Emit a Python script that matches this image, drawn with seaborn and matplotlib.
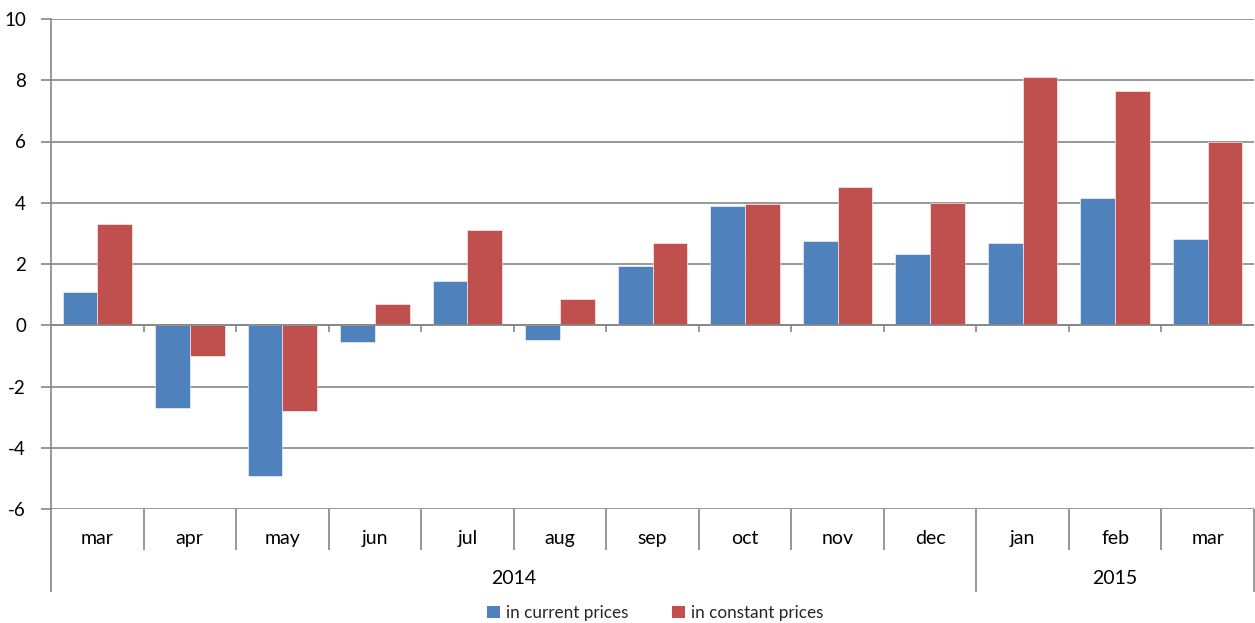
import numpy as np
import pandas as pd
import matplotlib
matplotlib.use("Agg")
import matplotlib.pyplot as plt
import matplotlib.transforms as mtransforms
from matplotlib.patches import Patch
import seaborn as sns

sns.set_theme(style="white")
plt.rcParams['font.family'] = ['Lato', 'DejaVu Sans']

# --- dane ---
months = ["mar", "apr", "may", "jun", "jul", "aug", "sep", "oct", "nov", "dec", "jan", "feb", "mar"]
years = ["2014"] * 10 + ["2015"] * 3
current_prices = [1.1, -2.69, -4.92, -0.54, 1.46, -0.47, 1.95, 3.88, 2.76, 2.34, 2.67, 4.14, 2.81]
constant_prices = [3.32, -1.0, -2.79, 0.71, 3.12, 0.87, 2.67, 3.97, 4.53, 4.0, 8.1, 7.66, 6.0]
series_names = ["in current prices", "in constant prices"]
colors = ["#4F81BD", "#C0504D"]
y_ticks = list(range(-6, 11, 2))

periods = [f"{m} {y}" for m, y in zip(months, years)]
df = pd.DataFrame({"period": periods,
                   series_names[0]: current_prices,
                   series_names[1]: constant_prices})
long = df.melt(id_vars="period", var_name="series", value_name="value")

grid_col = "#868686"

fig = plt.figure(figsize=(12.55, 6.23), dpi=100)
ax = fig.add_axes([51 / 1255, 1 - 509 / 623, 1203 / 1255, 490 / 623])

sns.barplot(data=long, x="period", y="value", hue="series", order=periods,
            hue_order=series_names, palette=colors, width=0.75, saturation=1,
            edgecolor="white", linewidth=0.4, legend=False, ax=ax)

ax.set_xlim(-0.5, len(periods) - 0.5)
ax.set_ylim(-6, 10)
ax.set_yticks(y_ticks)
ax.set_yticklabels([str(v) for v in y_ticks], fontsize=13.5, color="black")
ax.set_axisbelow(True)
ax.yaxis.grid(True, color=grid_col, linewidth=1.2)
ax.xaxis.grid(False)
ax.tick_params(axis="y", which="both", left=True, length=7, width=1.2,
               color=grid_col, pad=11)
ax.set_xlabel("")
ax.set_ylabel("")

for side in ["top", "right", "bottom"]:
    ax.spines[side].set_visible(False)
ax.spines["left"].set_color(grid_col)
ax.spines["left"].set_linewidth(1.2)

# etykiety miesięcy
ax.set_xticks(range(len(periods)))
ax.set_xticklabels(months, fontsize=14, color="black")
ax.tick_params(axis="x", length=0, pad=15)

# linie podziału kategorii pod osią
trans = mtransforms.blended_transform_factory(ax.transData, ax.transAxes)
bounds = np.arange(len(periods) + 1) - 0.5
year_edges = [-0.5]
for i in range(1, len(years)):
    if years[i] != years[i - 1]:
        year_edges.append(i - 0.5)
year_edges.append(len(years) - 0.5)

for b in bounds:
    low = -0.17 if b in year_edges else -0.0837
    ax.plot([b, b], [0, low], transform=trans, color=grid_col, lw=1.2,
            clip_on=False, solid_capstyle="butt")
# małe znaczniki przy osi zero
ax.vlines(bounds[1:-1], -0.23, 0, color=grid_col, lw=1.2)
ax.axhline(0, color=grid_col, lw=1.2)

# etykiety lat
for k in range(len(year_edges) - 1):
    center = (year_edges[k] + year_edges[k + 1]) / 2
    idx = int(year_edges[k] + 0.5)
    ax.text(center, -0.141, years[idx], transform=trans, ha="center",
            va="center", fontsize=14, color="black")

handles = [Patch(facecolor=c, edgecolor="none") for c in colors]
fig.legend(handles, series_names, loc="center", bbox_to_anchor=(0.522, 0.016),
           ncol=2, frameon=False, fontsize=12.3, handlelength=0.75,
           handleheight=0.75, handletextpad=0.35, columnspacing=2.6)

fig.savefig("out.png", dpi=100)
